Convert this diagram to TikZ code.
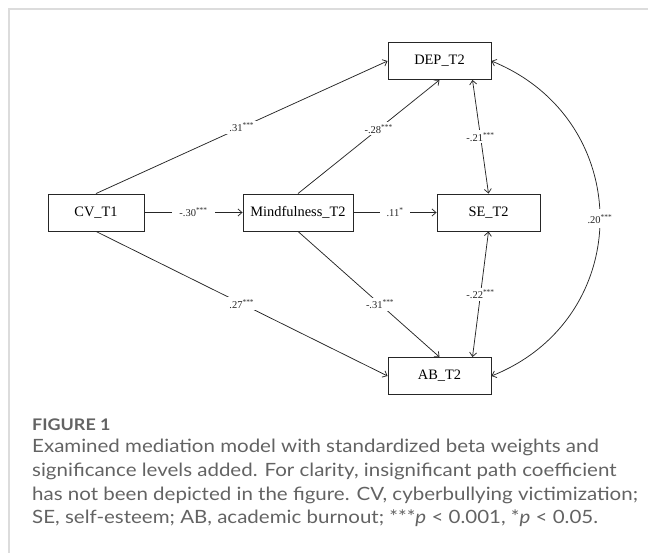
\documentclass[tikz,border=0pt]{standalone}
\usepackage{fontspec}
\setmainfont{Liberation Serif}
\newfontfamily\capfont{Lato}[FakeStretch=1.12]
\usetikzlibrary{arrows.meta,calc}
\definecolor{capgray}{HTML}{636363}
\definecolor{framegray}{HTML}{DCDCDC}
\definecolor{linegray}{HTML}{262626}

\begin{document}
\begin{tikzpicture}[x=1pt,y=-1pt,
  var/.style={draw=linegray, line width=0.9pt, inner sep=0pt, minimum height=37pt,
              font=\fontsize{14.4}{16}\selectfont},
  arr/.style={draw=linegray, line width=0.75pt, -{Straight Barb[length=4pt,width=7pt]}},
  cov/.style={arr, {Straight Barb[length=4pt,width=7pt]}-{Straight Barb[length=4pt,width=7pt]}},
  lbl/.style={fill=white, inner xsep=7pt, inner ysep=2pt,
              font=\fontsize{10.5}{12}\selectfont, text=linegray},
  captext/.style={anchor=base west, inner sep=0pt, text=capgray,
              font=\capfont\fontsize{18.3}{22}\selectfont},
]
\useasboundingbox (0,0) rectangle (648,553);

% card frame
\draw[framegray, line width=1.2pt] (9,553) -- (9,9) -- (648,9);

% variables
\node[var, minimum width=96pt]  (CV)   at (96,212.5)    {CV\_T1};
\node[var, minimum width=110pt] (MF)   at (298,212.5)   {Mindfulness\_T2};
\node[var, minimum width=103pt] (SE)   at (488.5,212.5) {SE\_T2};
\node[var, minimum width=103pt] (DEP)  at (439.5,61)    {DEP\_T2};
\node[var, minimum width=103pt] (AB)   at (439.5,376)   {AB\_T2};

% attachment points for the covariance arrows
\coordinate (DEPr) at ($(DEP.south)+(33,0)$);
\coordinate (ABr)  at ($(AB.north)+(33,0)$);

% direct paths
\draw[arr] (CV.north) -- node[lbl] (l31) {.31\textsuperscript{***}} (DEP.west);
\draw[arr] (CV.south) -- node[lbl] (l27) {.27\textsuperscript{***}} (AB.west);
\draw[arr] (CV.east) -- node[lbl] (l30) {-.30\textsuperscript{***}} (MF.west);
\draw[arr] (MF.north) -- node[lbl, pos=0.57] (l28) {-.28\textsuperscript{***}} (DEP.south);
\draw[arr] (MF.south) -- node[lbl, pos=0.58] (l31b) {-.31\textsuperscript{***}} (AB.north);
\draw[arr] (MF.east) -- node[lbl] (l11) {.11\textsuperscript{*}} (SE.west);

% residual covariances
\draw[cov] (DEPr) -- node[lbl, inner xsep=2pt] (l21) {-.21\textsuperscript{***}} (SE.north);
\draw[cov] (SE.south) -- node[lbl, inner xsep=2pt] (l22) {-.22\textsuperscript{***}} (ABr);
\draw[cov] (DEP.east) .. controls (636,120) and (636,318) ..
   node[lbl, inner xsep=2pt, inner ysep=5pt] (l20) {.20\textsuperscript{***}} (AB.east);

% caption
\node[captext, font=\capfont\bfseries\fontsize{16}{19}\selectfont] (fig) at (32,430.5) {FIGURE 1};
\node[captext] (c1) at (32,452) {Examined mediation model with standardized beta weights and};
\node[captext] (c2) at (32,476) {significance levels added. For clarity, insignificant path coefficient};
\node[captext] (c3) at (32,500) {has not been depicted in the figure. CV, cyberbullying victimization;};
\node[captext] (c4) at (32,523) {SE, self-esteem; AB, academic burnout; ***\textit{p} < 0.001, *\textit{p} < 0.05.};
\end{tikzpicture}
\end{document}
